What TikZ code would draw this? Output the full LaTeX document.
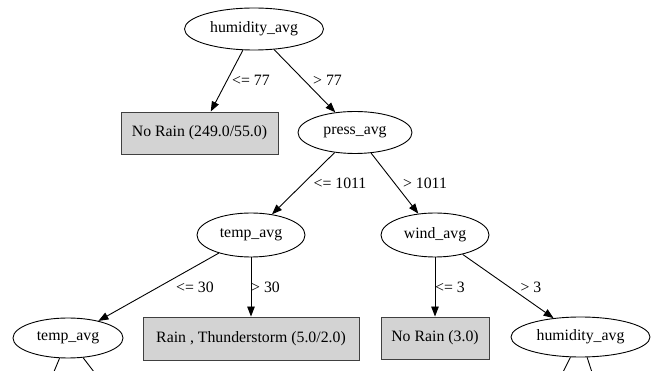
\documentclass[tikz,border=0pt]{standalone}
\usepackage{fontspec}
\setmainfont{Liberation Serif}
\usetikzlibrary{shapes.geometric,arrows.meta}
\tikzset{
  every node/.style={font=\fontsize{15.8}{18}\selectfont},
  split/.style={ellipse,draw=black,line width=0.9pt,inner sep=0pt},
  leaf/.style={rectangle,draw=black!75,fill=lightgrey,line width=0.9pt,inner sep=0pt},
  edge/.style={draw=black,line width=0.9pt,-{Triangle[length=10pt,width=7.5pt]}},
  stub/.style={draw=black,line width=0.9pt},
  elabel/.style={inner sep=0pt}
}
\definecolor{lightgrey}{HTML}{D3D3D3}
\begin{document}
\begin{tikzpicture}[x=1pt,y=-1pt]
\clip (0,0) rectangle (651,371);
\fill[white] (0,0) rectangle (651,371);
% nodes
\node[split,minimum width=139pt,minimum height=42pt] (h1) at (254,29) {humidity\_avg};
\node[leaf,minimum width=157pt,minimum height=42pt] (nr1) at (199.5,133) {No Rain (249.0/55.0)};
\node[split,minimum width=114pt,minimum height=42pt] (pa) at (355,132.5) {press\_avg};
\node[split,minimum width=108pt,minimum height=44pt] (ta1) at (251,235) {temp\_avg};
\node[split,minimum width=108pt,minimum height=44pt] (wa) at (435,235) {wind\_avg};
\node[split,minimum width=110pt,minimum height=40pt] (ta2) at (68,338) {temp\_avg};
\node[leaf,minimum width=216pt,minimum height=43pt] (rt) at (251,338.5) {Rain , Thunderstorm (5.0/2.0)};
\node[leaf,minimum width=108pt,minimum height=42pt] (nr2) at (435,338) {No Rain (3.0)};
\node[split,minimum width=139pt,minimum height=40pt] (h2) at (580.5,337) {humidity\_avg};
% off-canvas children
\coordinate (c1) at (43,398);
\coordinate (c2) at (114,398);
\coordinate (d1) at (550.5,397);
\coordinate (d2) at (600,397);
% edges
\draw[edge] (h1) -- (nr1);
\draw[edge] (h1) -- (pa);
\draw[edge] (pa) -- (ta1);
\draw[edge] (pa) -- (wa);
\draw[edge] (ta1) -- (ta2);
\draw[edge] (ta1) -- (rt);
\draw[edge] (wa) -- (nr2);
\draw[edge] (wa) -- (h2);
\draw[stub] (ta2) -- (c1);
\draw[stub] (ta2) -- (c2);
\draw[stub] (h2) -- (d1);
\draw[stub] (h2) -- (d2);
% edge labels
\node[elabel] (l1) at (251,80) {<= 77};
\node[elabel] (l2) at (327.5,80) {> 77};
\node[elabel] (l3) at (340,183) {<= 1011};
\node[elabel] (l4) at (425,183) {> 1011};
\node[elabel] (l5) at (195,287) {<= 30};
\node[elabel] (l6) at (265.5,287) {> 30};
\node[elabel] (l7) at (450,287) {<= 3};
\node[elabel] (l8) at (531,287) {> 3};
\end{tikzpicture}
\end{document}
